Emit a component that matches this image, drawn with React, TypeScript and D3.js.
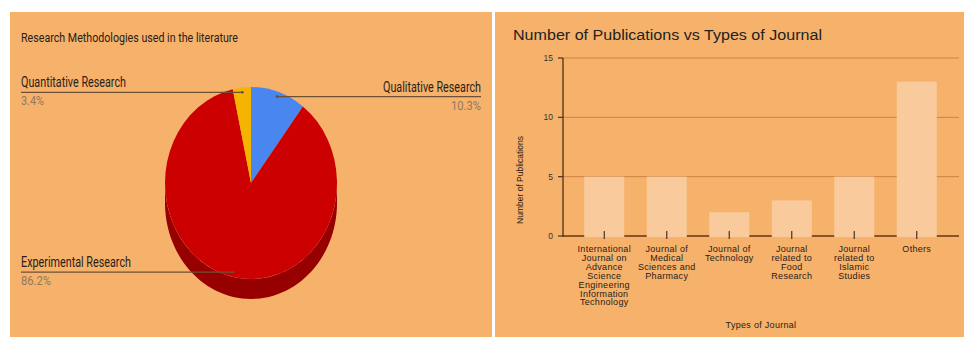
import React from "react";
import * as d3 from "d3";

// ---------- Pie data ----------
const pieLabels = ["Qualitative Research", "Experimental Research", "Quantitative Research"];
const pieValues = [10.3, 86.2, 3.4];
const pieColors = ["#4a86f0", "#cc0000", "#f4b400"];
const pieSideColors = ["#2c5fb8", "#960000", "#b88800"];

// ---------- Bar data ----------
const barCategories = [
  "International Journal on Advance Science Engineering Information Technology",
  "Journal of Medical Sciences and Pharmacy",
  "Journal of Technology",
  "Journal related to Food Research",
  "Journal related to Islamic Studies",
  "Others",
];
const barLabelLines = [
  ["International", "Journal on", "Advance", "Science", "Engineering", "Information", "Technology"],
  ["Journal of", "Medical", "Sciences and", "Pharmacy"],
  ["Journal of", "Technology"],
  ["Journal", "related to", "Food", "Research"],
  ["Journal", "related to", "Islamic", "Studies"],
  ["Others"],
];
const barValues = [5, 5, 2, 3, 5, 13];
const yTicks = [0, 5, 10, 15];

const BG = "#f6b26b";

function PiePanel() {
  const cx = 251, cy = 183, rx = 86, ry = 96, depth = 20;
  const pie = d3.pie<number>().sort(null).value((d) => d).startAngle(0).endAngle(2 * Math.PI);
  const arcs = pie(pieValues);
  const arc = d3.arc<d3.PieArcDatum<number>>().innerRadius(0).outerRadius(ry);
  const pt = (a: number, f = 1, dy = 0): [number, number] => [cx + rx * f * Math.sin(a), cy - ry * f * Math.cos(a) + dy];
  const line = d3.line();

  const sides = arcs.map((a, i) => {
    const s = Math.max(a.startAngle, Math.PI / 2);
    const e = Math.min(a.endAngle, (3 * Math.PI) / 2);
    if (s >= e) return null;
    const n = 60;
    const top = d3.range(n + 1).map((k) => pt(s + ((e - s) * k) / n));
    const bot = d3.range(n + 1).map((k) => pt(e - ((e - s) * k) / n, 1, depth));
    return <path key={"s" + i} d={line([...top, ...bot])! + "Z"} fill={pieSideColors[i]} />;
  });

  const labelCfg = [{ side: "right" }, { side: "left" }, { side: "left" }];
  const lineColor = "#6e5035";
  const pctColor = "#92785e";

  const labels = arcs.map((a, i) => {
    const mid = (a.startAngle + a.endAngle) / 2;
    const [ax, ay] = pt(mid, 0.95);
    const right = labelCfg[i].side === "right";
    const x0 = right ? 481 : 21;
    const nameLen = [98, 110, 105][i];
    const pctLen = [30, 30, 23][i];
    return (
      <g key={"l" + i}>
        <line x1={x0} x2={ax} y1={ay} y2={ay} stroke={lineColor} strokeWidth={1.3} />
        <circle cx={ax} cy={ay} r={1.3} fill="#5a4a40" />
        <text
          x={x0}
          y={ay - 5}
          textAnchor={right ? "end" : "start"}
          fontFamily="Roboto, 'Liberation Sans', sans-serif"
          fontSize={14.5}
          fill="#2a2018"
          textLength={nameLen}
          lengthAdjust="spacingAndGlyphs"
        >
          {pieLabels[i]}
        </text>
        <text
          x={x0}
          y={ay + 13}
          textAnchor={right ? "end" : "start"}
          fontFamily="Roboto, 'Liberation Sans', sans-serif"
          fontSize={13.5}
          fill={pctColor}
          textLength={pctLen}
          lengthAdjust="spacingAndGlyphs"
        >
          {d3.format(".1f")(pieValues[i]) + "%"}
        </text>
      </g>
    );
  });

  return (
    <g>
      <rect x={10} y={12} width={482} height={325} fill={BG} />
      <text
        x={21}
        y={42}
        fontFamily="Roboto, 'Liberation Sans', sans-serif"
        fontSize={13.5}
        fill="#2a2018"
        textLength={217}
        lengthAdjust="spacingAndGlyphs"
      >
        Research Methodologies used in the literature
      </text>
      {sides}
      <g transform={`translate(${cx},${cy}) scale(${rx / ry},1)`}>
        {arcs.map((a, i) => (
          <path key={"a" + i} d={arc(a)!} fill={pieColors[i]} />
        ))}
      </g>
      {labels}
    </g>
  );
}

function BarPanel() {
  const axisX = 563;
  const gridEnd = 959;
  const y = d3.scaleLinear().domain([0, 15]).range([236, 58]);
  const x = d3.scaleBand<string>().domain(barCategories).range([573, 948]).paddingInner(0.36).paddingOuter(0.18);
  const font = "'Liberation Sans', Arial, sans-serif";
  return (
    <g>
      <rect x={495} y={12} width={469} height={325} fill={BG} />
      <text x={513} y={40} fontFamily={font} fontSize={14} fill="#222" textLength={309} lengthAdjust="spacingAndGlyphs">
        Number of Publications vs Types of Journal
      </text>
      {yTicks.filter((t) => t > 0).map((t) => (
        <line key={"g" + t} x1={axisX} x2={gridEnd} y1={y(t)} y2={y(t)} stroke="#c98445" strokeWidth={1} />
      ))}
      <line x1={axisX} x2={gridEnd} y1={y(0)} y2={y(0)} stroke="#8a5526" strokeWidth={2} />
      {barValues.map((v, i) => (
        <rect
          key={"b" + i}
          x={x(barCategories[i])!}
          y={y(v)}
          width={x.bandwidth()}
          height={y(0) - y(v) + 1}
          fill="#f9cb9c"
        />
      ))}
      <line x1={axisX} x2={axisX} y1={y(15)} y2={y(0) + 1} stroke="#4e3018" strokeWidth={1.3} />
      {yTicks.map((t) => (
        <g key={"t" + t}>
          <line x1={axisX - 5} x2={axisX} y1={y(t)} y2={y(t)} stroke="#4e3018" strokeWidth={1.2} />
          <text x={553} y={y(t)} dy="0.35em" textAnchor="end" fontFamily={font} fontSize={8.5} fill="#333">
            {t}
          </text>
        </g>
      ))}
      {barCategories.map((c, i) => {
        const cxm = x(c)! + x.bandwidth() / 2;
        return (
          <g key={"x" + i}>
            <line x1={cxm} x2={cxm} y1={231} y2={239} stroke="#4e3018" strokeWidth={1.2} />
            <text textAnchor="middle" fontFamily={font} fontSize={9} letterSpacing={0.3} fill="#2a2018">
              {barLabelLines[i].map((ln, k) => (
                <tspan key={k} x={cxm} y={252 + k * 8.9}>
                  {ln}
                </tspan>
              ))}
            </text>
          </g>
        );
      })}
      <text
        transform={`translate(520,180) rotate(-90)`}
        textAnchor="middle"
        dy="0.35em"
        fontFamily={font}
        fontSize={8.5}
        fill="#2a2018"
      >
        Number of Publications
      </text>
      <text x={761} y={328} textAnchor="middle" fontFamily={font} fontSize={9} letterSpacing={0.3} fill="#2a2018">
        Types of Journal
      </text>
    </g>
  );
}

export default function App() {
  return (
    <svg
      width={964}
      height={337}
      viewBox="0 0 964 337"
      style={{ position: "absolute", left: 0, top: 0, background: "#fff" }}
    >
      <PiePanel />
      <BarPanel />
    </svg>
  );
}
